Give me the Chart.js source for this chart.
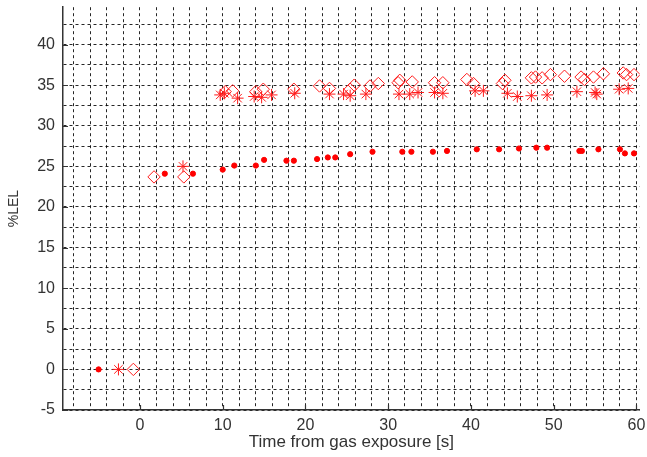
<!DOCTYPE html>
<html>
<head>
<meta charset="utf-8">
<script src="https://cdn.jsdelivr.net/npm/chart.js@4"></script>
<style>
  body { margin: 0; background: #fff; }
</style>
</head>
<body>
<canvas id="myChart" width="647" height="457"></canvas>
<script>
// sensor 1 (filled dots)
const dotX = [-5.0, 3.0, 6.4, 10.0, 11.4, 14.0, 15.0, 17.7, 18.6, 21.4, 22.7, 23.6, 25.4, 28.1, 31.7, 32.8, 35.4, 37.1, 40.7, 43.4, 45.8, 47.9, 49.2, 53.1, 53.4, 55.4, 58.0, 58.6, 59.7];
const dotY = [0, 24.1, 24.1, 24.6, 25.1, 25.1, 25.8, 25.7, 25.7, 25.9, 26.1, 26.1, 26.5, 26.8, 26.8, 26.8, 26.8, 26.9, 27.1, 27.1, 27.2, 27.3, 27.3, 26.9, 26.9, 27.1, 27.1, 26.6, 26.6];
// sensor 2 (asterisks)
const starX = [-2.6, 5.2, 9.7, 10.2, 11.8, 13.8, 14.7, 15.9, 18.7, 22.9, 24.6, 25.4, 27.3, 31.3, 32.6, 33.6, 35.6, 36.6, 40.5, 41.5, 44.4, 45.6, 47.3, 49.2, 52.8, 55.0, 55.2, 57.9, 59.0];
const starY = [0, 25.0, 33.8, 34.0, 33.4, 33.6, 33.5, 33.8, 34.0, 33.9, 33.9, 33.7, 33.9, 33.9, 33.9, 34.1, 34.1, 34.0, 34.3, 34.3, 34.0, 33.6, 33.7, 33.8, 34.2, 34.1, 33.9, 34.5, 34.6];
// sensor 3 (open diamonds)
const diaX = [-0.8, 1.7, 5.3, 10.3, 11.2, 14.0, 14.9, 18.6, 21.7, 22.9, 25.4, 25.9, 27.8, 28.8, 31.2, 31.4, 32.9, 35.6, 36.6, 39.5, 40.3, 43.8, 44.1, 47.3, 47.8, 48.6, 49.6, 51.3, 53.3, 53.7, 54.8, 56.0, 58.4, 58.8, 59.7];
const diaY = [0, 23.7, 23.7, 34.2, 34.3, 34.2, 34.5, 34.5, 34.9, 34.6, 34.5, 35.0, 34.9, 35.2, 35.3, 35.6, 35.4, 35.3, 35.3, 35.7, 35.2, 35.2, 35.6, 35.9, 36.0, 35.9, 36.3, 36.1, 36.0, 35.7, 36.0, 36.4, 36.5, 36.3, 36.3];

// grid positions / tick labels
const xTicks = [-8, -6, -4, -2, 0, 2, 4, 6, 8, 10, 12, 14, 16, 18, 20, 22, 24, 26, 28, 30, 32, 34, 36, 38, 40, 42, 44, 46, 48, 50, 52, 54, 56, 58, 60];
const yTicks = [-5, -2.5, 0, 2.5, 5, 7.5, 10, 12.5, 15, 17.5, 20, 22.5, 25, 27.5, 30, 32.5, 35, 37.5, 40, 42.5];

const pts = (xs, ys) => xs.map((x, i) => ({x: x, y: ys[i]}));

// small inward tick marks at the labelled values (matlab style)
const innerTicks = {
  id: 'innerTicks',
  afterDatasetsDraw(chart) {
    const {ctx, chartArea, scales: {x, y}} = chart;
    ctx.save();
    ctx.strokeStyle = '#333';
    ctx.lineWidth = 1.2;
    ctx.beginPath();
    xTicks.filter(v => v % 10 === 0).forEach(v => {
      const px = Math.round(x.getPixelForValue(v)) + 0.5;
      ctx.moveTo(px, chartArea.bottom);
      ctx.lineTo(px, chartArea.bottom - 5);
    });
    yTicks.filter(v => v % 5 === 0).forEach(v => {
      const py = Math.round(y.getPixelForValue(v)) + 0.5;
      ctx.moveTo(chartArea.left, py);
      ctx.lineTo(chartArea.left + 5, py);
    });
    ctx.stroke();
    ctx.restore();
  }
};

const ctx = document.getElementById('myChart');

new Chart(ctx, {
  type: 'scatter',
  data: {
    datasets: [
      {
        label: 'dots',
        data: pts(dotX, dotY),
        pointStyle: 'circle',
        pointRadius: 2.6,
        backgroundColor: '#ff0000',
        borderColor: '#ff0000',
        borderWidth: 1
      },
      {
        label: 'stars',
        data: pts(starX, starY),
        pointStyle: 'star',
        pointRadius: 6,
        borderColor: '#ff1a1a',
        backgroundColor: 'transparent',
        borderWidth: 1
      },
      {
        label: 'diamonds',
        data: pts(diaX, diaY),
        pointStyle: 'rectRot',
        pointRadius: 6.2,
        borderColor: '#ff1a1a',
        backgroundColor: 'transparent',
        borderWidth: 1
      }
    ]
  },
  options: {
    responsive: false,
    animation: false,
    devicePixelRatio: 1,
    layout: { padding: { top: 7, right: 7, left: 0, bottom: 0 } },
    plugins: {
      legend: { display: false },
      tooltip: { enabled: false }
    },
    scales: {
      x: {
        type: 'linear',
        min: -9.3,
        max: 60.4,
        afterBuildTicks: axis => { axis.ticks = xTicks.map(v => ({value: v})); },
        afterFit: scale => { scale.height = 47; scale.paddingLeft = 0; scale.paddingRight = 0; },
        ticks: {
          autoSkip: false,
          maxRotation: 0,
          padding: 6,
          color: '#333',
          font: { family: 'Liberation Sans, Arial, sans-serif', size: 16 },
          callback: v => (v % 10 === 0 ? String(v) : '')
        },
        grid: { color: 'rgba(0,0,0,0.85)', lineWidth: 1, drawTicks: false },
        border: { dash: [3, 3], color: '#333', width: 1.5 },
        title: {
          display: true,
          text: 'Time from gas exposure [s]',
          color: '#333',
          font: { family: 'Liberation Sans, Arial, sans-serif', size: 17 },
          padding: { top: 2, bottom: 4 }
        }
      },
      y: {
        type: 'linear',
        min: -5,
        max: 44.6,
        afterBuildTicks: axis => { axis.ticks = yTicks.map(v => ({value: v})); },
        afterFit: scale => { scale.width = 63; scale.paddingTop = 0; scale.paddingBottom = 0; },
        ticks: {
          autoSkip: false,
          padding: 8,
          color: '#333',
          font: { family: 'Liberation Sans, Arial, sans-serif', size: 16 },
          callback: v => (v % 5 === 0 ? String(v) : '')
        },
        grid: { color: 'rgba(0,0,0,0.85)', lineWidth: 1, drawTicks: false },
        border: { dash: [3, 3], color: '#333', width: 1.5 },
        title: {
          display: true,
          text: '%LEL',
          color: '#333',
          font: { family: 'Liberation Sans, Arial, sans-serif', size: 14 },
          padding: { top: 6, bottom: 4 }
        }
      }
    }
  },
  plugins: [innerTicks]
});
</script>
</body>
</html>
